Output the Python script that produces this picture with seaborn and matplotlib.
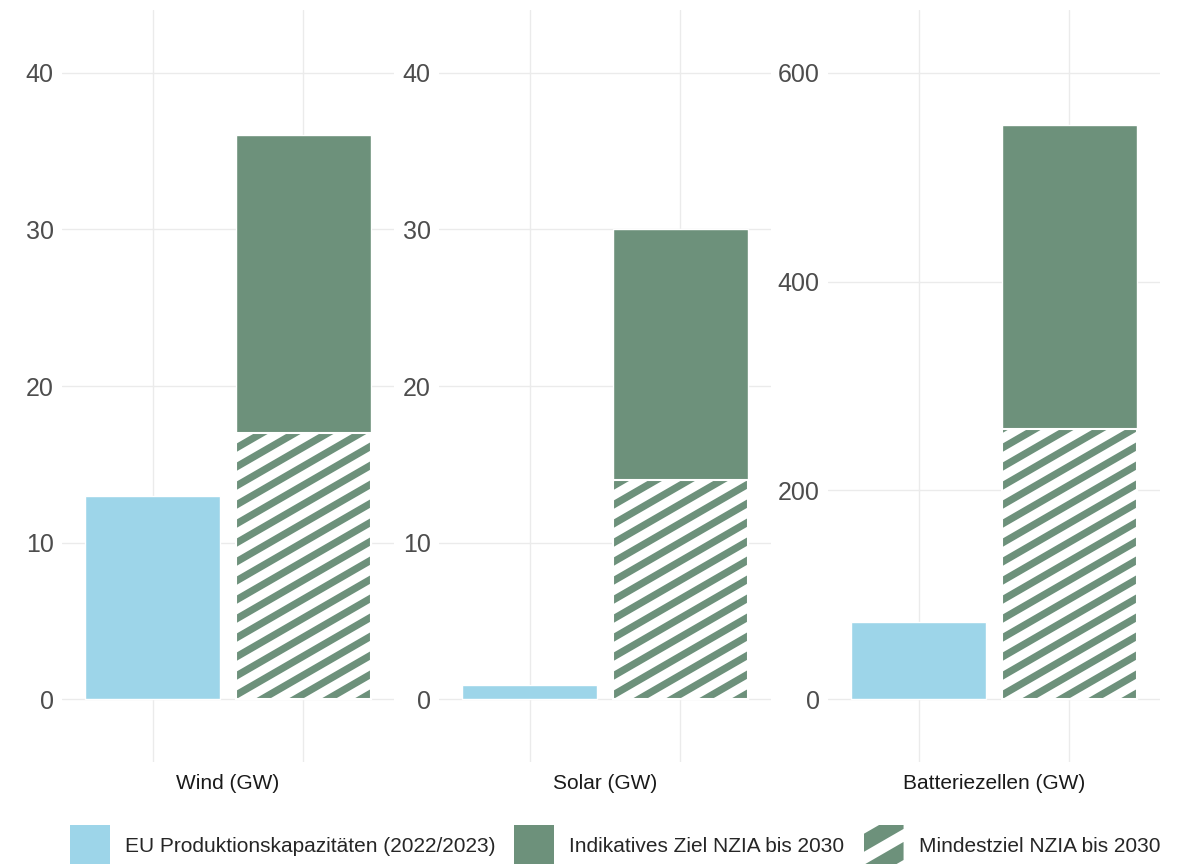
import numpy as np
import pandas as pd
import matplotlib
matplotlib.use("Agg")
import matplotlib.pyplot as plt
import seaborn as sns
from matplotlib.patches import Rectangle, Patch, Polygon
from matplotlib.collections import LineCollection
from matplotlib.transforms import IdentityTransform
from matplotlib.legend_handler import HandlerBase

# ---- data -------------------------------------------------------------
technologies = ["Wind (GW)", "Solar (GW)", "Batteriezellen (GW)"]
eu_capacity = [13, 0.9, 74]          # EU production capacity 2022/2023
indicative_target = [36, 30, 550]    # indicative NZIA target 2030
minimum_target = [17, 14, 259]       # minimum NZIA target 2030

y_ticks = [[0, 10, 20, 30, 40], [0, 10, 20, 30, 40], [0, 200, 400, 600]]
y_limits = [(-4, 44), (-4, 44), (-60, 660)]

label_eu = "EU Produktionskapazitäten (2022/2023)"
label_ind = "Indikatives Ziel NZIA bis 2030"
label_min = "Mindestziel NZIA bis 2030"
slots = ["Ist", "Ziel"]

BLUE = "#9dd5e9"
GREEN = "#6d917b"
GRID = "#ebebeb"

df = pd.DataFrame({
    "tech": np.repeat(technologies, 3),
    "series": [label_eu, label_ind, label_min] * 3,
    "slot": ["Ist", "Ziel", "Ziel"] * 3,
    "value": np.ravel(np.column_stack([eu_capacity, indicative_target, minimum_target])),
})

# ---- style ------------------------------------------------------------
sns.set_style("white")
plt.rcParams["font.family"] = ["Liberation Sans", "DejaVu Sans"]

DPI = 100
fig = plt.figure(figsize=(11.86, 8.64), dpi=DPI)
fig.patch.set_facecolor("white")

panel_left_px = [62, 439, 828]
panel_width_px = 332
W, H = 1186, 864
bottom_px, top_px = 762, 10

STRIPE_ANGLE = np.deg2rad(30)
STRIPE_VPERIOD = 19.0      # vertical repeat of stripes, px
STRIPE_FRAC = 0.44         # share of the period that is green


def stripe_segments(x0, y0, x1, y1, vperiod, angle, phase=0.0):
    """Long parallel segments covering the box (x0,y0)-(x1,y1)."""
    slope = np.tan(angle)
    w = x1 - x0
    c_min = y0 - slope * w - vperiod
    c_max = y1 + vperiod
    segs = []
    c = y0 + phase
    while c > c_min:
        c -= vperiod
    while c < c_max:
        segs.append([(x0 - 5, c - slope * 5), (x1 + 5, c + slope * (w + 5))])
        c += vperiod
    return segs


for i, tech in enumerate(technologies):
    ax = fig.add_axes([panel_left_px[i] / W, 1 - bottom_px / H,
                       panel_width_px / W, (bottom_px - top_px) / H])
    sub = df[df.tech == tech]
    common = dict(x="slot", y="value", order=slots, saturation=1, width=0.9,
                  errorbar=None, ax=ax)

    sns.barplot(data=sub[sub.series == label_eu], color=BLUE,
                edgecolor="white", linewidth=1, zorder=2, **common)
    sns.barplot(data=sub[sub.series == label_ind], color=GREEN,
                edgecolor="white", linewidth=1, zorder=2, **common)
    n0 = len(ax.patches)
    sns.barplot(data=sub[sub.series == label_min], color="white",
                edgecolor="none", linewidth=0, zorder=2.1, **common)
    hatched = ax.patches[n0:]
    # white outline on top of the striped segment
    sns.barplot(data=sub[sub.series == label_min], color="white", fill=False,
                linewidth=1.5, zorder=2.3, **common)

    ax.set_xlim(-0.6, 1.6)
    ax.set_ylim(*y_limits[i])
    ax.set_yticks(y_ticks[i])
    ax.set_xlabel("")
    ax.set_ylabel("")
    ax.tick_params(axis="x", labelbottom=False, length=0)
    ax.tick_params(axis="y", length=0, labelsize=18, labelcolor="#4d4d4d", pad=6)
    ax.grid(True, color=GRID, linewidth=1.0)
    ax.set_axisbelow(True)
    for s in ax.spines.values():
        s.set_visible(False)

    # stripes of the minimum target, clipped to the bar
    for p in hatched:
        bb = p.get_window_extent()
        segs = stripe_segments(bb.x0, bb.y0, bb.x1, bb.y1, STRIPE_VPERIOD, STRIPE_ANGLE, phase=4)
        lw_px = STRIPE_FRAC * STRIPE_VPERIOD * np.cos(STRIPE_ANGLE)
        lc = LineCollection(segs, colors=GREEN, linewidths=lw_px * 72 / DPI,
                            capstyle="butt", transform=IdentityTransform(), zorder=2.2)
        ax.add_artist(lc)
        lc.set_clip_path(p)

    ax.text(0.5, -0.028, tech, transform=ax.transAxes, ha="center", va="center",
            fontsize=15, color="#1a1a1a")


# ---- legend -----------------------------------------------------------
class StripedKey(HandlerBase):
    def create_artists(self, legend, orig_handle, xdescent, ydescent,
                       width, height, fontsize, trans):
        x0, y0 = -xdescent, -ydescent
        bg = Rectangle((x0, y0), width, height, facecolor="white",
                       edgecolor="none", transform=trans)
        vper = height * 0.74
        band = height * 0.43
        slope = np.tan(STRIPE_ANGLE)
        arts = [bg]
        c = y0 + 0.357 * height
        while c > y0 - slope * width - vper:
            c -= vper
        while c < y0 + height + vper:
            poly = Polygon([(x0, c), (x0 + width, c + slope * width),
                            (x0 + width, c + slope * width + band), (x0, c + band)],
                           closed=True, facecolor=GREEN, edgecolor="none",
                           transform=trans)
            poly.set_clip_path(bg)
            arts.append(poly)
            c += vper
        return arts


h_eu = Patch(facecolor=BLUE, edgecolor="none")
h_ind = Patch(facecolor=GREEN, edgecolor="none")
h_min = Patch(facecolor="white", edgecolor="none")

leg_fs = 15
fs_px = leg_fs * DPI / 72
key_w, key_h = 40, 42
fig.legend([h_eu, h_ind, h_min], [label_eu, label_ind, label_min],
           handler_map={h_min: StripedKey()},
           loc="center", bbox_to_anchor=(615 / W, 1 - 846 / H), ncol=3,
           frameon=False, fontsize=leg_fs, handlelength=key_w / fs_px,
           handleheight=(key_h / fs_px - 0.245) / 0.65, handletextpad=15 / fs_px,
           columnspacing=19 / fs_px, borderpad=0, borderaxespad=0)

fig.savefig("out.png", dpi=DPI, facecolor="white")
